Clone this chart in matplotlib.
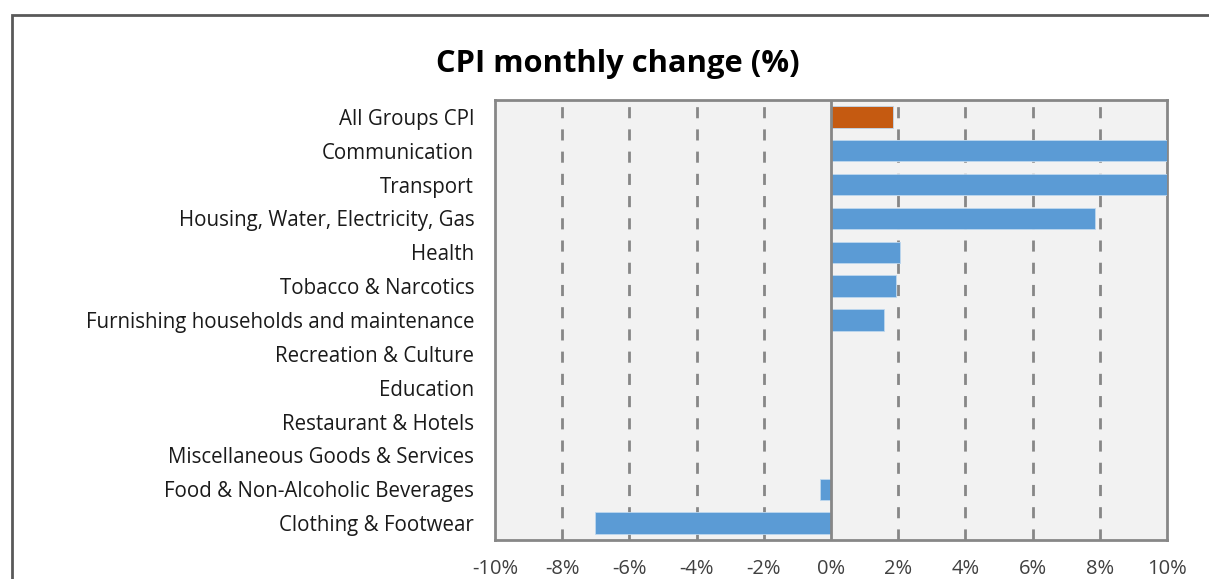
import matplotlib
matplotlib.use("Agg")
import matplotlib.pyplot as plt
from matplotlib.patches import Rectangle
from matplotlib.ticker import FuncFormatter

categories = [
    "All Groups CPI",
    "Communication",
    "Transport",
    "Housing, Water, Electricity, Gas",
    "Health",
    "Tobacco & Narcotics",
    "Furnishing households and maintenance",
    "Recreation & Culture",
    "Education",
    "Restaurant & Hotels",
    "Miscellaneous Goods & Services",
    "Food & Non-Alcoholic Beverages",
    "Clothing & Footwear",
]
values = [1.85, 12.0, 11.5, 7.85, 2.04, 1.93, 1.59, 0.0, 0.0, 0.0, 0.0, -0.32, -7.03]
x_ticks = [-10, -8, -6, -4, -2, 0, 2, 4, 6, 8, 10]

blue = "#5B9BD5"
orange = "#C55A11"
colors = [orange] + [blue] * (len(categories) - 1)

plt.rcParams['font.family'] = ['Open Sans', 'DejaVu Sans']

fig = plt.figure(figsize=(12.09, 5.79), dpi=100)
ax = fig.add_axes([495/1209, 1-540/579, (1167-495)/1209, (540-100)/579])
ax.set_facecolor("#F2F2F2")

ypos = list(range(len(categories)))
ax.barh(ypos, values, height=0.63, color=colors, edgecolor="#BDD7EE", linewidth=0.6, zorder=3)
ax.set_ylim(len(categories) - 0.5, -0.5)
ax.set_xlim(-10, 10)
ax.set_yticks(ypos)
ax.set_yticklabels(categories, fontsize=14.8)
ax.set_xticks(x_ticks)
ax.xaxis.set_major_formatter(FuncFormatter(lambda v, p: f"{int(round(v))}%"))
ax.tick_params(axis='x', labelsize=14.5, length=0, pad=13.5, colors="#595959", labelcolor="#404040")
ax.tick_params(axis='y', length=0, pad=15, labelcolor="#1a1a1a")

for v in x_ticks:
    if v == 0:
        ax.axvline(v, color="#878787", lw=2, zorder=4)
    elif v not in (-10, 10):
        ax.axvline(v, color="#878787", lw=2, ls=(0, (4, 4)), zorder=2)

for s in ax.spines.values():
    s.set_color("#878787")
    s.set_linewidth(2)

fig.text(618/1209, 1-64/579, "CPI monthly change (%)", ha="center", va="center",
         fontsize=22.2, fontweight="bold", color="#000000")

fig.patches.append(Rectangle((12/1209, -0.1), 1.2, 1-15/579+0.1, transform=fig.transFigure,
                             fill=False, edgecolor="#595959", linewidth=2))

fig.savefig("out.png", dpi=100)
